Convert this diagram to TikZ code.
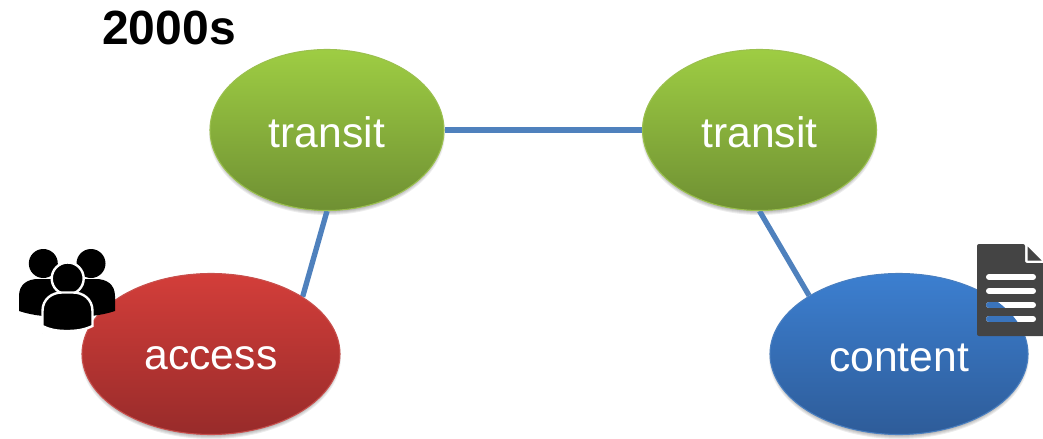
\documentclass[tikz,border=0pt]{standalone}
\usepackage{fontspec}
\setmainfont{Liberation Sans}
\usetikzlibrary{shapes.geometric,backgrounds}
\definecolor{linkblue}{HTML}{4F81BD}
\definecolor{docgray}{HTML}{444444}
\definecolor{green1}{HTML}{9ECD43}
\definecolor{green2}{HTML}{6F9033}
\definecolor{greenrim}{HTML}{9BC04F}
\definecolor{red1}{HTML}{D33E3A}
\definecolor{red2}{HTML}{982B2A}
\definecolor{redrim}{HTML}{C8504D}
\definecolor{blue1}{HTML}{3C7FD0}
\definecolor{blue2}{HTML}{2E5C99}
\definecolor{bluerim}{HTML}{4A7FC0}
\definecolor{blue3}{HTML}{3A74BC}
\newcommand{\lowered}[2]{\rule{0pt}{#1}#2}
\tikzset{
  x=0.75pt,y=-0.75pt,
  blob/.style={ellipse,inner sep=0pt,text=white,font=\fontsize{32}{36}\selectfont,line width=0.8pt},
  greenblob/.style={blob,minimum width=175.5pt,minimum height=120.75pt,top color=green1,bottom color=green2,draw=greenrim},
  redblob/.style={blob,minimum width=193.5pt,minimum height=120.75pt,top color=red1,bottom color=red2,draw=redrim},
  blueblob/.style={blob,minimum width=193.5pt,minimum height=120.75pt,top color=blue1,bottom color=blue2,draw=bluerim},
  link/.style={draw=linkblue,line width=4pt},
  docline/.style={white,line width=4.5pt,line cap=round},
  docinset/.style={line width=4.5pt,line cap=round,draw=blue3},
  halo/.style={draw=white,line width=1.8pt,fill=black},
  softshadow/.style={fill=black,fill opacity=0.07,draw=none}
}
\begin{document}
\begin{tikzpicture}
\useasboundingbox (0,0) rectangle (1043,439);
\clip (0,0) rectangle (1043,439);
\node[greenblob] (t1) at (327,130) {\lowered{26pt}{transit}};
\node[greenblob] (t2) at (759.5,130) {\lowered{26pt}{transit}};
\node[redblob] (a) at (211,354) {\lowered{23pt}{access}};
\node[blueblob] (c) at (899,354) {\lowered{26pt}{content}};
\node[font=\fontsize{36}{40}\selectfont\bfseries,text=black,inner sep=0pt] (title) at (169,28) {2000s};
\begin{scope}[on background layer]
  \foreach \gr in {0,1,2,3,4}{
    \fill[softshadow] (327,133) ellipse [x radius=114+\gr,y radius=78+\gr];
    \fill[softshadow] (759.5,133) ellipse [x radius=114+\gr,y radius=78+\gr];
    \fill[softshadow] (211,357) ellipse [x radius=126+\gr,y radius=78+\gr];
    \fill[softshadow] (899,357) ellipse [x radius=126+\gr,y radius=78+\gr];
  }
  \draw[link] (t1) -- (t2);
  \draw[link] (t1.south) -- (a.32);
  \draw[link] (t2.south) -- (c.147);
\end{scope}
% people icon
\fill[black] (43.3,263.5) circle (14.5);
\fill[black] (91,263.5) circle (14.5);
\fill[black] (19,311) -- (19,296) .. controls (19,284) and (28,279) .. (38,279)
  -- (96,279) .. controls (106,279) and (115,284) .. (115,296) -- (115,311)
  .. controls (100,316) and (85,317) .. (67,317) .. controls (49,317) and (34,316) .. (19,311) -- cycle;
\draw[halo] (67.7,278.5) circle (16);
\draw[halo] (42.5,333) -- (42.5,311) .. controls (42.5,299) and (52,292.5) .. (62,292.5)
  -- (73,292.5) .. controls (83,292.5) and (92.5,299) .. (92.5,311) -- (92.5,326)
  .. controls (84,330) and (76,331) .. (67,331) .. controls (58,331) and (50,330) .. (42.5,326) -- cycle;
% document icon
\fill[docgray,rounded corners=1.5pt] (977,244) -- (1025,244) -- (1025,263) -- (1050,263) -- (1050,336) -- (977,336) -- cycle;
\fill[docgray] (1027.5,246.5) -- (1027.5,260.7) -- (1041.7,260.7) -- cycle;
\draw[docline] (989,277) -- (1033,277);
\draw[docline] (989,291) -- (1033,291);
\draw[docline] (989,305) -- (1033,305);
\draw[docline] (989,319) -- (1033,319);
\begin{scope}
  \clip (899,354) ellipse [x radius=129,y radius=81];
  \draw[docinset] (989,305) -- (1033,305);
  \draw[docinset] (989,319) -- (1033,319);
\end{scope}
\end{tikzpicture}
\end{document}
